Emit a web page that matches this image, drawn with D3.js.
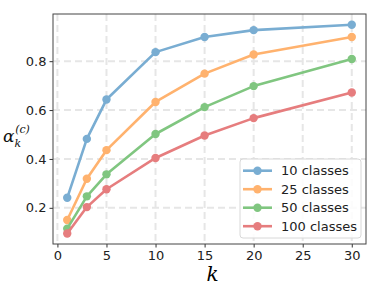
<!DOCTYPE html>
<html><head><meta charset="utf-8">
<script src="https://cdn.jsdelivr.net/npm/d3@7"></script>
<style>body{margin:0;background:#fff}svg{display:block}</style>
</head><body>
<script>
const kValues = [1, 3, 5, 10, 15, 20, 30];
const seriesNames = ["10 classes", "25 classes", "50 classes", "100 classes"];
const s10 = [0.241, 0.482, 0.643, 0.837, 0.899, 0.927, 0.949];
const s25 = [0.150, 0.319, 0.436, 0.633, 0.749, 0.827, 0.899];
const s50 = [0.115, 0.247, 0.337, 0.502, 0.612, 0.698, 0.809];
const s100 = [0.095, 0.203, 0.276, 0.404, 0.496, 0.567, 0.672];
const xTicks = [0, 5, 10, 15, 20, 25, 30];
const yTicks = [0.2, 0.4, 0.6, 0.8];
const colors = ["#79add2", "#ffb26e", "#80c680", "#e67d7e"];
const allSeries = [s10, s25, s50, s100];

const W = 382, H = 286;
const L = 53, R = 366, T = 14, B = 244;
const svg = d3.select("body").append("svg").attr("width", W).attr("height", H);
const x = d3.scaleLinear().domain([-0.45, 31.45]).range([L, R]);
const y = d3.scaleLinear().domain([0.052, 0.993]).range([B, T]);

// grid
const g = svg.append("g");
g.selectAll(".gx").data(xTicks).enter().append("line")
  .attr("x1", d => x(d)).attr("x2", d => x(d)).attr("y1", T).attr("y2", B)
  .attr("stroke", "#e6e6e6").attr("stroke-width", 2).attr("stroke-dasharray", "7,4");
g.selectAll(".gy").data(yTicks).enter().append("line")
  .attr("y1", d => y(d)).attr("y2", d => y(d)).attr("x1", L).attr("x2", R)
  .attr("stroke", "#e6e6e6").attr("stroke-width", 2).attr("stroke-dasharray", "7,4");

// lines
const line = d3.line().x((d, i) => x(kValues[i])).y(d => y(d));
allSeries.forEach((s, si) => {
  svg.append("path").datum(s).attr("d", line).attr("fill", "none")
    .attr("stroke", colors[si]).attr("stroke-width", 2.6).attr("stroke-linejoin", "round");
  svg.selectAll(null).data(s).enter().append("circle")
    .attr("cx", (d, i) => x(kValues[i])).attr("cy", d => y(d)).attr("r", 4.2)
    .attr("fill", colors[si]);
});

// axes
const xa = svg.append("g").attr("transform", `translate(0,${B})`)
  .call(d3.axisBottom(x).tickValues(xTicks).tickSize(3.5).tickPadding(3).tickFormat(d3.format("d")));
const ya = svg.append("g").attr("transform", `translate(${L},0)`)
  .call(d3.axisLeft(y).tickValues(yTicks).tickSize(3.5).tickPadding(3).tickFormat(d3.format(".1f")));
[xa, ya].forEach(a => {
  a.select(".domain").remove();
  a.selectAll("line").attr("stroke", "#333");
  a.selectAll("text").attr("font-family", "DejaVu Sans").attr("font-size", 13).attr("fill", "#222");
});
svg.append("rect").attr("x", L).attr("y", T).attr("width", R - L).attr("height", B - T)
  .attr("fill", "none").attr("stroke", "#444").attr("stroke-width", 1);

// axis labels
svg.append("text").attr("x", (L + R) / 2 + 3).attr("y", 281).attr("text-anchor", "middle")
  .attr("font-family", "DejaVu Serif").attr("font-style", "italic").attr("font-size", 20).text("k");
const yl = svg.append("text").attr("x", 3).attr("y", 142).attr("font-family", "DejaVu Serif")
  .attr("font-style", "italic").attr("fill", "#111");
yl.append("tspan").attr("font-size", 17).text("α");
yl.append("tspan").attr("font-size", 11).attr("dy", 5).text("k");
yl.append("tspan").attr("font-size", 11).attr("dy", -14).attr("dx", -6).text("(c)");

// legend
const lg = svg.append("g");
lg.append("rect").attr("x", 240).attr("y", 159).attr("width", 121).attr("height", 79).attr("rx", 3)
  .attr("fill", "#fff").attr("fill-opacity", 0.85).attr("stroke", "#d8d8d8");
seriesNames.forEach((n, i) => {
  const yy = 170.7 + i * 18.5;
  lg.append("line").attr("x1", 243).attr("x2", 272).attr("y1", yy).attr("y2", yy)
    .attr("stroke", colors[i]).attr("stroke-width", 2.6);
  lg.append("circle").attr("cx", 257.5).attr("cy", yy).attr("r", 4.2).attr("fill", colors[i]);
  lg.append("text").attr("x", 281).attr("y", yy + 4.5).attr("font-family", "DejaVu Sans")
    .attr("font-size", 13).attr("fill", "#222").text(n);
});
</script>
</body></html>
